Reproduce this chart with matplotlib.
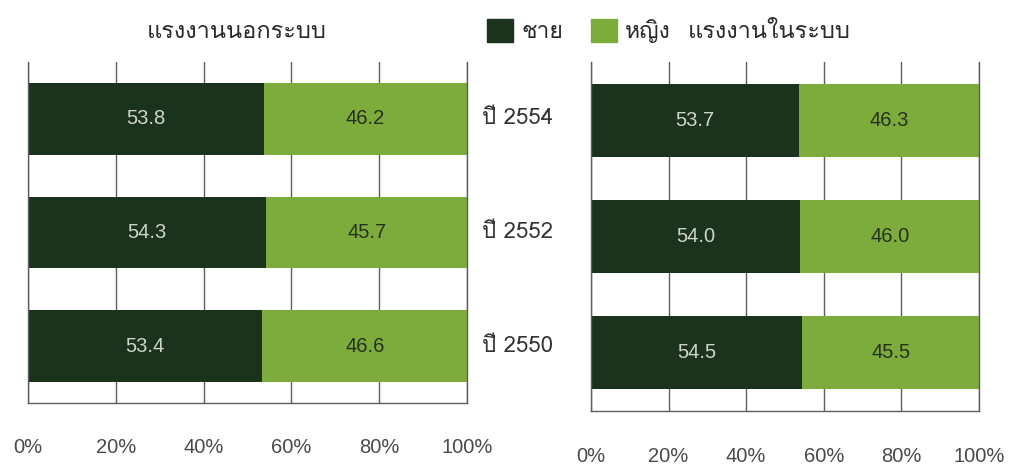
import matplotlib
matplotlib.use("Agg")
import matplotlib.pyplot as plt
from matplotlib.patches import Patch

# ปี พ.ศ. (ล่างขึ้นบน)
years = ["ปี 2550", "ปี 2552", "ปี 2554"]
informal_male = [53.4, 54.3, 53.8]
informal_female = [46.6, 45.7, 46.2]
formal_male = [54.5, 54.0, 53.7]
formal_female = [45.5, 46.0, 46.3]
ticks = [0, 20, 40, 60, 80, 100]

DARK = "#1b321d"
LIGHT = "#7dab3c"
GRID = "#5e5e5e"
THAI = ["Loma", "Noto Sans Thai Looped", "DejaVu Sans"]
NUM = ["Liberation Sans", "DejaVu Sans"]

fig = plt.figure(figsize=(10.1, 4.66), dpi=100)
ax1 = fig.add_axes([0.0277, 0.1352, 0.4347, 0.7318])
ax2 = fig.add_axes([0.5851, 0.1180, 0.3842, 0.7490])


def draw_panel(ax, male, female, pad):
    y = range(len(male))
    bars_m = ax.barh(y, male, height=0.63, color=DARK, zorder=2)
    bars_f = ax.barh(y, female, left=male, height=0.63, color=LIGHT, zorder=2)
    ax.bar_label(bars_m, labels=["%.1f" % v for v in male], label_type="center",
                 color="#cdd5ca", fontsize=14.5, family=NUM)
    ax.bar_label(bars_f, labels=["%.1f" % v for v in female], label_type="center",
                 color="#25321c", fontsize=14.5, family=NUM)
    ax.set_xlim(0, 100)
    ax.set_ylim(-0.5, len(male) - 0.5)
    ax.set_xticks(ticks)
    ax.set_xticklabels(["%d%%" % t for t in ticks], family=NUM, fontsize=14.5,
                       color="#4a4a4a")
    ax.tick_params(axis="x", length=0, pad=pad)
    ax.set_yticks([])
    ax.grid(axis="x", color=GRID, lw=1, zorder=0)
    ax.set_axisbelow(True)
    ax.spines["top"].set_visible(False)
    for s in ["left", "right", "bottom"]:
        ax.spines[s].set_color(GRID)
        ax.spines[s].set_linewidth(1)


draw_panel(ax1, informal_male, informal_female, 25)
draw_panel(ax2, formal_male, formal_female, 26)

for i, lab in enumerate(years):
    ax1.text(1.034, i, lab, transform=ax1.get_yaxis_transform(), ha="left",
             va="center", fontsize=16, family=THAI, color="#333333")

fig.text(237 / 1010, 1 - 31 / 466, "แรงงานนอกระบบ", ha="center", va="center",
         fontsize=17, family=THAI, color="#2a2a2a")
fig.text(769 / 1010, 1 - 31 / 466, "แรงงานในระบบ", ha="center", va="center",
         fontsize=17, family=THAI, color="#2a2a2a")

handles = [Patch(color=DARK, label="ชาย"), Patch(color=LIGHT, label="หญิง")]
fig.legend(handles=handles, loc="center left", bbox_to_anchor=(487 / 1010, 1 - 31 / 466),
           ncol=2, frameon=False, borderpad=0, borderaxespad=0,
           handlelength=1.15, handleheight=1.2, handletextpad=0.35,
           columnspacing=1.2, prop={"family": THAI, "size": 16.5},
           labelcolor="#2a2a2a")

fig.savefig("out.png")
